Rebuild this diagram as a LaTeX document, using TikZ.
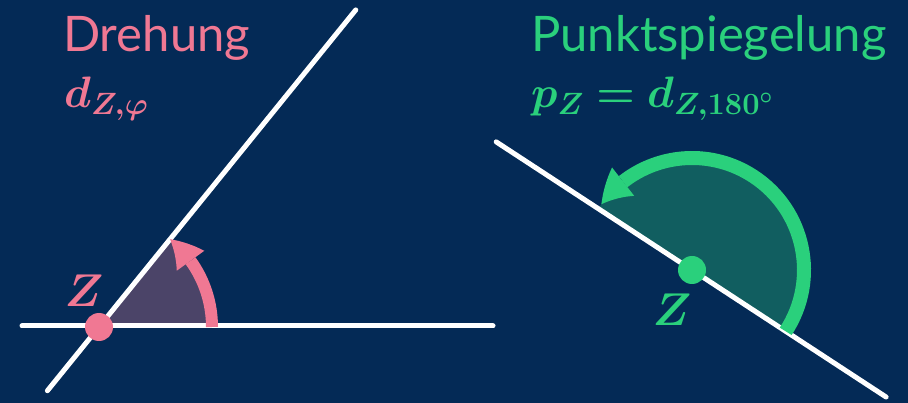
\RequirePackage{fix-cm}
\documentclass[tikz,border=0pt]{standalone}
\usepackage{amsmath}
\usepackage[no-math]{fontspec}
\setmainfont{Lato}
\usepackage{bm}
\usetikzlibrary{arrows.meta,bending,calc}
\definecolor{bg}{RGB}{4,42,86}
\definecolor{rosa}{RGB}{240,120,147}
\definecolor{lila}{RGB}{75,68,104}
\definecolor{gruen}{RGB}{42,208,124}
\definecolor{petrol}{RGB}{17,94,96}
\begin{document}
\begin{tikzpicture}[x=1pt,y=-1pt,
  wline/.style={white,line width=5pt,line cap=round},
  titletext/.style={anchor=base west,inner sep=0pt,font=\fontsize{49}{58}\selectfont},
  formulatext/.style={anchor=base west,inner sep=0pt,font=\fontsize{44}{52}\selectfont},
  zlabeltext/.style={inner sep=0pt,font=\fontsize{46}{54}\selectfont},
  zdot/.style={circle,inner sep=0pt,minimum size=28pt}]
\fill[bg] (0,0) rectangle (908,403);
\useasboundingbox (0,0) rectangle (908,403);
% ---------- left: Drehung ----------
\coordinate (Z1) at (99,327);
\coordinate (h1) at (22,326);
\coordinate (h2) at (493,326);
\coordinate (d1) at ($(Z1)+(129:82)$);
\coordinate (d2) at ($(Z1)+(-51:408)$);
\coordinate (a1) at ($(Z1)+(0:113)$);
\fill[lila] (Z1) -- (a1) arc[start angle=0,end angle=-51,radius=113] -- cycle;
\draw[wline] (h1) -- (h2);
\draw[wline] (d1) -- (d2);
\draw[rosa,line width=12pt,-{Triangle[width=34pt,length=30pt,line width=0pt,bend]}]
  (a1) arc[start angle=0,end angle=-51,radius=113];
\node[zdot,fill=rosa] (z1) at (Z1) {};
\node[zlabeltext,text=rosa] (zl1) at (84,291) {$\bm{Z}$};
\node[titletext,text=rosa] (t1) at (63,52) {Drehung};
\node[formulatext,text=rosa] (f1) at (64,108) {$\bm{d_{Z,\varphi}}$};
% ---------- right: Punktspiegelung ----------
\coordinate (Z2) at (692,270);
\coordinate (l1) at ($(Z2)+(-146.8:234)$);
\coordinate (l2) at ($(Z2)+(33.2:232)$);
\coordinate (a2) at ($(Z2)+(33.2:112)$);
\fill[petrol] (Z2) -- (a2) arc[start angle=33.2,end angle=-146.8,radius=112] -- cycle;
\draw[wline] (l1) -- (l2);
\draw[gruen,line width=14pt,-{Triangle[width=36pt,length=32pt,line width=0pt,bend]}]
  (a2) arc[start angle=33.2,end angle=-144,radius=112];
\node[zdot,fill=gruen] (z2) at (Z2) {};
\node[zlabeltext,text=gruen] (zl2) at (672,310) {$\bm{Z}$};
\node[titletext,text=gruen] (t2) at (531,52) {Punktspiegelung};
\node[formulatext,text=gruen] (f2) at (531,108) {$\bm{p_Z = d_{Z,180^\circ}}$};
\end{tikzpicture}
\end{document}
